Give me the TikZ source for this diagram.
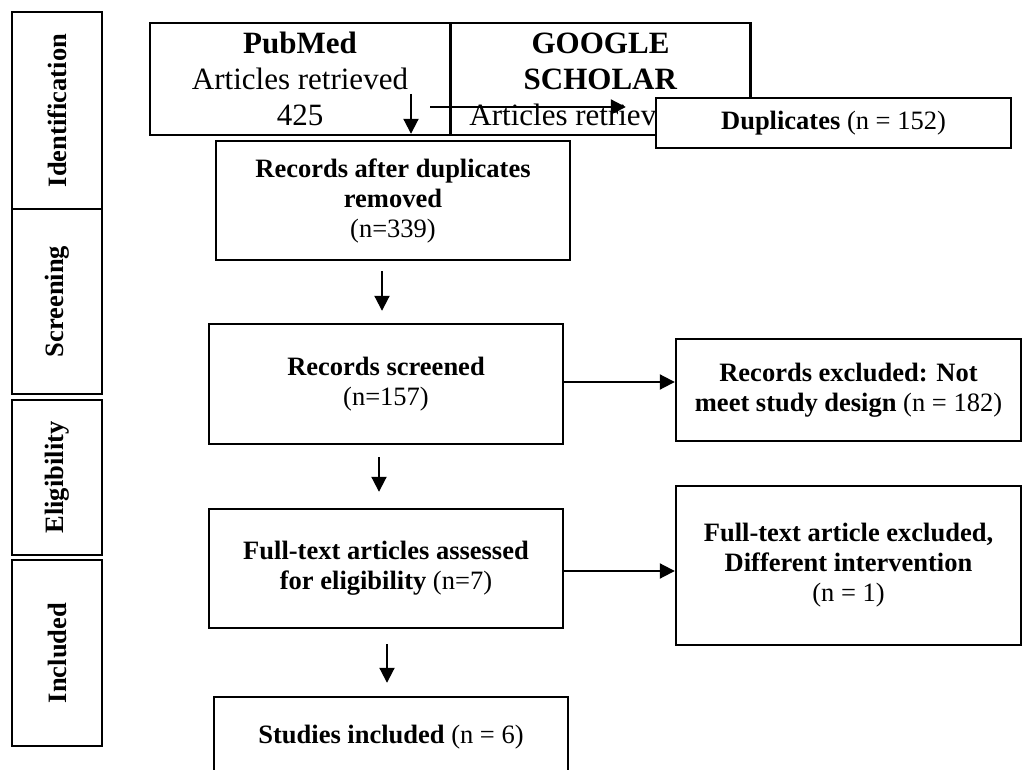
\documentclass[tikz,border=0pt]{standalone}
\usepackage{fontspec}
\setmainfont{Liberation Serif}
\usetikzlibrary{arrows.meta}

\begin{document}
\begin{tikzpicture}[x=0.5pt, y=-0.5pt,
  font=\fontsize{13.25}{15}\selectfont,
  box/.style={draw, line width=1.2pt, fill=white, align=center, inner sep=2pt},
  stage/.style={draw, line width=1.2pt, rotate=90, inner sep=0pt,
                font=\fontsize{13.25}{15}\selectfont\bfseries, minimum height=45pt},
  src/.style={box, font=\fontsize{15.5}{18}\selectfont,
              minimum width=150pt, minimum height=56pt},
  arr/.style={-{Triangle[length=7.5pt, width=7.5pt]}, line width=1pt}]
  \useasboundingbox (0,0) rectangle (1024,770);
  % phases
  \node[stage, minimum width=98.5pt] (ident)  at (57,110.5) {Identification};
  \node[stage, minimum width=92.5pt] (screen) at (57,301.5) {Screening};
  \node[stage, minimum width=77.5pt] (elig)   at (57,477.5) {Eligibility};
  \node[stage, minimum width=93pt]   (incl)   at (57,653)   {Included};
  % sources
  \node[src] (pubmed)  at (300,79)   {\textbf{PubMed}\\Articles retrieved\\425};
  \node[src] (scholar) at (600.5,79) {\textbf{GOOGLE}\\\textbf{SCHOLAR}\\\hspace*{-23pt}Articles retrieved};
  % flow
  \node[box, minimum width=177pt, minimum height=59.5pt] (afterdup) at (393,200.5)
    {\textbf{Records after duplicates}\\\textbf{removed}\\(n=339)};
  \node[box, minimum width=177pt, minimum height=60pt] (screened) at (386,384)
    {\textbf{Records screened}\\(n=157)};
  \node[box, minimum width=172.5pt, minimum height=51pt] (exclone) at (848.5,390)
    {\textbf{Records excluded: Not}\\\textbf{meet study design} (n = 182)};
  \node[box, minimum width=177pt, minimum height=59.5pt] (fulltext) at (386,568.5)
    {\textbf{Full-text articles assessed}\\\textbf{for eligibility} (n=7)};
  \node[box, minimum width=172.5pt, minimum height=79.5pt] (excltwo) at (848.5,565.5)
    {\textbf{Full-text article excluded,}\\\textbf{Different intervention}\\(n = 1)};
  \node[box, minimum width=177pt, minimum height=40pt] (studies) at (391,737)
    {\textbf{Studies included} (n = 6)};
  \coordinate (pm) at (411,94);
  \coordinate (dp) at (430,107);
  \draw[arr, shorten >=3pt] (pm) -- (pm |- afterdup.north);
  \node[box, minimum width=177.5pt, minimum height=25pt] (dupl) at (833.5,123)
    {\textbf{Duplicates} (n = 152)};
  \draw[arr, shorten >=14.5pt] (dp) -- (dp -| dupl.west);
  \draw[arr, shorten <=5pt, shorten >=6pt] ([xshift=-5.5pt]afterdup.south)
    -- ([xshift=-5.5pt]afterdup.south |- screened.north);
  \draw[arr, shorten <=6pt, shorten >=8pt] ([xshift=-3.5pt]screened.south)
    -- ([xshift=-3.5pt]screened.south |- fulltext.north);
  \draw[arr, shorten <=7.5pt, shorten >=6.5pt] ([xshift=0.5pt]fulltext.south)
    -- ([xshift=0.5pt]fulltext.south |- studies.north);
  \draw[arr] ([yshift=1pt]screened.east) -- ([yshift=1pt]screened.east -| exclone.west);
  \draw[arr] ([yshift=-1.25pt]fulltext.east) -- ([yshift=-1.25pt]fulltext.east -| excltwo.west);
\end{tikzpicture}
\end{document}
